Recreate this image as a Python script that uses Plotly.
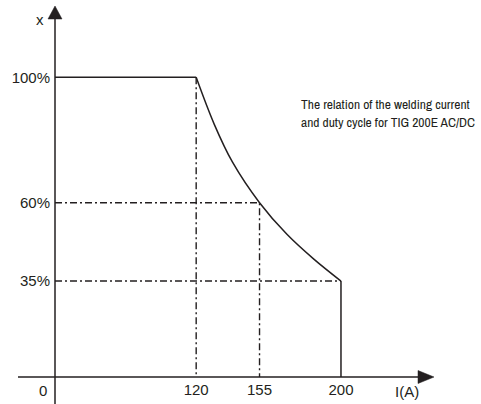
import plotly.graph_objects as go

# ---- data ----
current_ticks = [120, 155, 200]
current_labels = ["120", "155", "200"]
duty_ticks = [100, 60, 35]
duty_labels = ["100%", "60%", "35%"]

curve_current = [120, 130, 140, 155, 170, 185, 200]
curve_duty = [100, 85, 73, 60, 50, 42, 35]

title_lines = ["The relation of the welding current", "and duty cycle for TIG 200E AC/DC"]

# ---- layout constants ----
W, H = 481, 404
ML, MR, MT, MB = 55, 0, 0, 27
PW, PH = W - ML - MR, H - MT - MB
X0, XS = 42.0, 1.81
Y0, YS = 4.4, 3.1349
XR = [X0, X0 + PW / XS]
YR = [Y0, Y0 + PH / YS]

INK = "#231f20"
FONT = "Liberation Sans, Arial, sans-serif"


def px(x):
    return (x - ML) / PW


def py(y):
    return (H - MB - y) / PH


fig = go.Figure()

solid = dict(color=INK, width=1.5)
dashdot = dict(color=INK, width=1.4, dash="7px,3px,2px,3px")

# 100% plateau
fig.add_trace(go.Scatter(x=[X0, current_ticks[0]], y=[duty_ticks[0]] * 2,
                         mode="lines", line=solid, hoverinfo="skip"))
# duty-cycle curve
fig.add_trace(go.Scatter(x=curve_current, y=curve_duty, mode="lines",
                         line=dict(color=INK, width=1.5, shape="spline", smoothing=1.0),
                         hoverinfo="skip"))
# vertical drop at 200 A
fig.add_trace(go.Scatter(x=[current_ticks[2]] * 2, y=[duty_ticks[2], Y0],
                         mode="lines", line=solid, hoverinfo="skip"))
# dash-dot guides
fig.add_trace(go.Scatter(x=[current_ticks[0]] * 2, y=[duty_ticks[0], Y0],
                         mode="lines", line=dashdot, hoverinfo="skip"))
fig.add_trace(go.Scatter(x=[X0, current_ticks[1], current_ticks[1]],
                         y=[duty_ticks[1], duty_ticks[1], Y0],
                         mode="lines", line=dashdot, hoverinfo="skip"))
fig.add_trace(go.Scatter(x=[X0, current_ticks[2]], y=[duty_ticks[2]] * 2,
                         mode="lines", line=dashdot, hoverinfo="skip"))

shapes = [
    # y axis
    dict(type="line", xref="paper", yref="paper", x0=px(55), x1=px(55),
         y0=py(18), y1=py(404), line=dict(color=INK, width=1.5)),
    # x axis
    dict(type="line", xref="paper", yref="paper", x0=px(18), x1=px(420),
         y0=py(377), y1=py(377), line=dict(color=INK, width=1.5)),
    # arrowheads
    dict(type="path", xref="paper", yref="paper",
         path=f"M {px(55)} {py(6)} L {px(48)} {py(19)} L {px(62)} {py(19)} Z",
         fillcolor=INK, line=dict(color=INK, width=0.5)),
    dict(type="path", xref="paper", yref="paper",
         path=f"M {px(434)} {py(377)} L {px(418)} {py(370.5)} L {px(418)} {py(383.5)} Z",
         fillcolor=INK, line=dict(color=INK, width=0.5)),
]

annotations = [
    dict(text="x", xref="paper", yref="paper", x=px(40), y=py(20), xanchor="center",
         yanchor="middle", showarrow=False, font=dict(size=15, color=INK, family=FONT)),
    dict(text="0", xref="paper", yref="paper", x=px(43), y=py(390), xanchor="center",
         yanchor="middle", showarrow=False, font=dict(size=15, color=INK, family=FONT)),
    dict(text="I(A)", xref="paper", yref="paper", x=px(407), y=py(391), xanchor="center",
         yanchor="middle", showarrow=False, font=dict(size=15, color=INK, family=FONT)),
    dict(text="<br>".join(title_lines), xref="paper", yref="paper",
         x=px(299), y=py(113), xanchor="left", yanchor="middle", align="left",
         showarrow=False,
         font=dict(size=13.5, color=INK,
                   family="Archivo Narrow, Liberation Sans, sans-serif")),
]

fig.update_layout(
    width=W, height=H,
    margin=dict(l=ML, r=MR, t=MT, b=MB, pad=0),
    paper_bgcolor="white", plot_bgcolor="white",
    showlegend=False,
    shapes=shapes, annotations=annotations,
    xaxis=dict(range=XR, tickvals=current_ticks, ticktext=current_labels,
               showgrid=False, zeroline=False, showline=False, ticks="",
               ticklabelstandoff=2,
               tickfont=dict(size=15, color=INK, family=FONT), fixedrange=True),
    yaxis=dict(range=YR, tickvals=duty_ticks, ticktext=duty_labels,
               showgrid=False, zeroline=False, showline=False, ticks="",
               ticklabelstandoff=4,
               tickfont=dict(size=15, color=INK, family=FONT), fixedrange=True),
)

fig.write_html("out.html", config=dict(displayModeBar=False),
               post_script="document.body.style.margin='0';")
